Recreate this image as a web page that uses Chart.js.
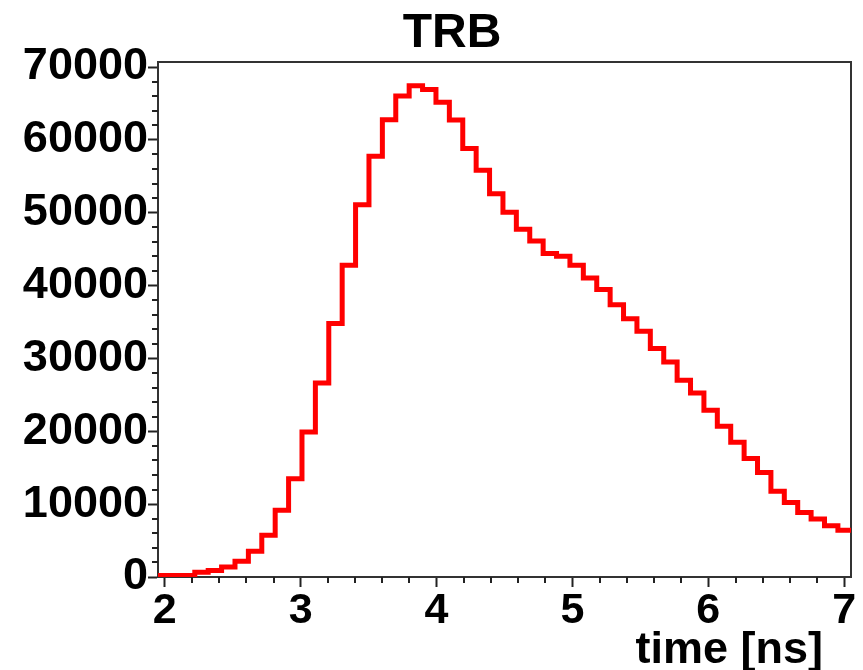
<!DOCTYPE html>
<html><head><meta charset="utf-8">
<script src="https://cdn.jsdelivr.net/npm/chart.js@4/dist/chart.umd.min.js"></script>
<style>html,body{margin:0;padding:0;background:#fff;} #wrap{width:863px;height:670px;}</style>
</head><body><div id="wrap"><canvas id="c" width="863" height="670"></canvas></div>
<script>
const chartTitle = 'TRB';
const xAxisTitle = 'time [ns]';
// histogram bins (uniform width), lower edge of first bin and width in ns
const binStart = 1.925;
const binWidth = 0.0986;
// bin contents
const counts = [200, 200, 200, 650, 900, 1370, 2150, 3530, 5720, 9150,
  13500, 19900, 26630, 34780, 42780, 51110, 57740, 62780, 66020, 67440,
  66900, 65150, 62720, 58800, 55820, 52620, 50050, 47720, 46120, 44390,
  44020, 42780, 41040, 39450, 37380, 35460, 33720, 31350, 29510, 27000,
  25250, 22880, 20680, 18500, 16270, 14330, 11760, 10210, 8840, 7960,
  7050, 6410];
const xTickValues = [2, 3, 4, 5, 6, 7];
const yTickValues = [0, 10000, 20000, 30000, 40000, 50000, 60000, 70000];
const xMinorStep = 0.2;
const yMinorStep = 2000;
const xRange = [1.95, 7.05];
const yRange = [0, 70690];

const points = counts.map((c, i) => ({x: binStart + i * binWidth, y: c}));
points.push({x: binStart + counts.length * binWidth, y: counts[counts.length - 1]});

const FONT = '"Liberation Sans", Arial, Helvetica, sans-serif';

const framePlugin = {
  id: 'frame',
  beforeDatasetsDraw(chart) {
    const {ctx, chartArea: a, scales: {x, y}} = chart;
    ctx.save();
    ctx.strokeStyle = '#333';
    ctx.lineWidth = 2;
    ctx.strokeRect(a.left, a.top, a.right - a.left, a.bottom - a.top);
    ctx.strokeStyle = '#222';
    ctx.lineWidth = 2;
    ctx.beginPath();
    for (let v = yRange[0]; v <= yRange[1]; v += yMinorStep) {
      if (yTickValues.includes(v)) continue;
      const py = Math.round(y.getPixelForValue(v));
      ctx.moveTo(a.left - 6, py); ctx.lineTo(a.left, py);
    }
    for (let k = 0; ; k++) {
      const v = xTickValues[0] - xMinorStep + k * xMinorStep;
      if (v > xRange[1]) break;
      if (v < xRange[0]) continue;
      if (xTickValues.some(t => Math.abs(t - v) < 1e-6)) continue;
      const px = Math.round(x.getPixelForValue(v));
      ctx.moveTo(px, a.bottom); ctx.lineTo(px, a.bottom + 6);
    }
    ctx.stroke();
    ctx.restore();
  },
  afterDraw(chart) {
    const {ctx} = chart;
    ctx.save();
    ctx.fillStyle = '#000';
    ctx.font = 'bold 48px ' + FONT;
    ctx.textAlign = 'center';
    ctx.textBaseline = 'alphabetic';
    ctx.fillText(chartTitle, 452, 47);
    ctx.font = 'bold 45px ' + FONT;
    ctx.textAlign = 'right';
    ctx.fillText(xAxisTitle, 823, 663);
    ctx.restore();
  }
};

new Chart(document.getElementById('c'), {
  type: 'line',
  data: {
    datasets: [{
      data: points,
      stepped: 'before',
      borderColor: '#ff0000',
      borderWidth: 5,
      pointRadius: 0,
      fill: false,
      clip: 0,
      borderJoinStyle: 'miter',
      borderCapStyle: 'butt'
    }]
  },
  options: {
    responsive: false,
    animation: false,
    devicePixelRatio: 1,
    layout: {padding: {top: 62, right: 12, left: 0, bottom: 0}},
    plugins: {legend: {display: false}, tooltip: {enabled: false}, title: {display: false}},
    scales: {
      x: {
        type: 'linear', min: xRange[0], max: xRange[1],
        afterBuildTicks: s => { s.ticks = xTickValues.map(v => ({value: v})); },
        afterFit: s => { s.height = 93; },
        grid: {display: true, drawOnChartArea: false, drawTicks: true, tickLength: 10, tickWidth: 2, tickColor: '#222'},
        border: {display: true, color: '#333', width: 2},
        ticks: {color: '#000', font: {family: FONT, size: 43, weight: 'bold'}, padding: -2, maxRotation: 0, autoSkip: false,
                callback: v => String(v)}
      },
      y: {
        type: 'linear', min: yRange[0], max: yRange[1],
        afterBuildTicks: s => { s.ticks = yTickValues.map(v => ({value: v})); },
        afterFit: s => { s.width = 158; },
        grid: {display: true, drawOnChartArea: false, drawTicks: true, tickLength: 10, tickWidth: 2, tickColor: '#222'},
        border: {display: true, color: '#333', width: 2},
        ticks: {color: '#000', font: {family: FONT, size: 45, weight: 'bold'}, padding: 0, autoSkip: false,
                callback: v => String(v)}
      }
    }
  },
  plugins: [framePlugin]
});
</script>
</body></html>
